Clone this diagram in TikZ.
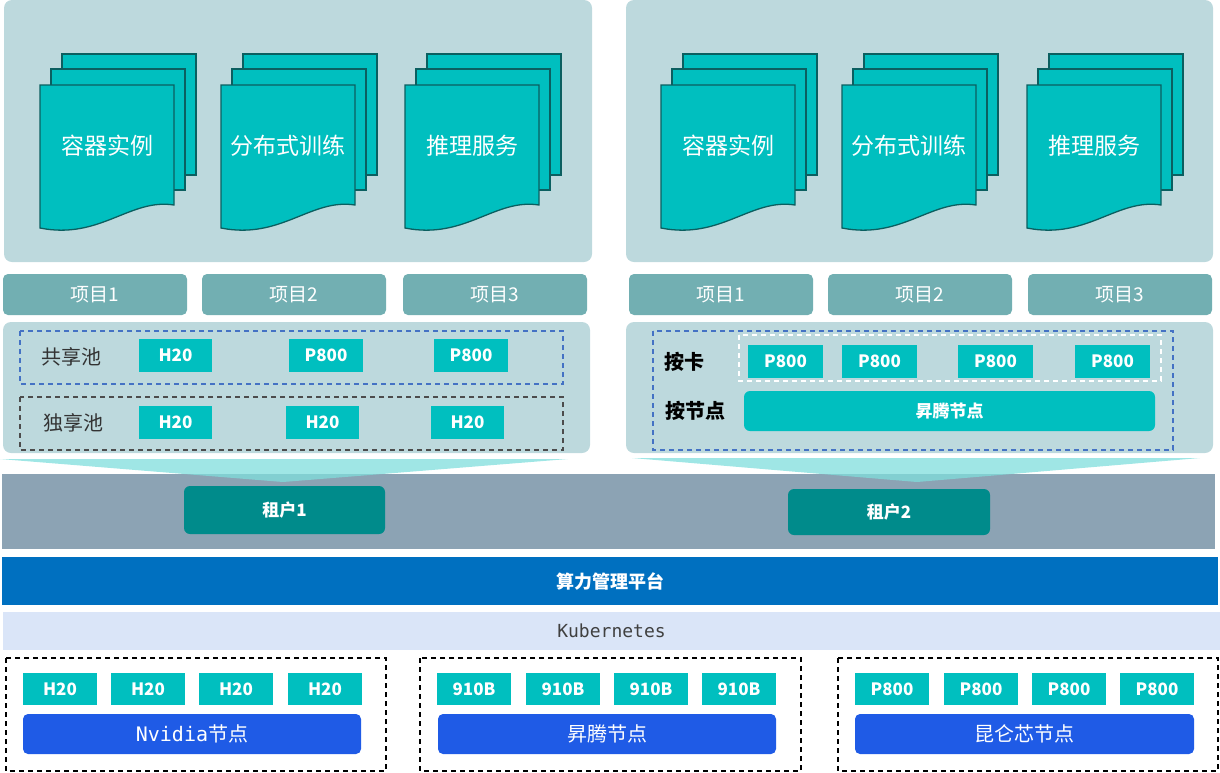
\documentclass[tikz,border=0pt]{standalone}
\usepackage{fontspec}
\setmainfont{Noto Sans CJK SC}
\newfontfamily\monofont{DejaVu Sans Mono}
\usetikzlibrary{positioning}
\definecolor{panel}{HTML}{BDD9DD}
\definecolor{proj}{HTML}{72AFB2}
\definecolor{chip}{HTML}{00BFBF}
\definecolor{docline}{HTML}{0B5F60}
\definecolor{band}{HTML}{8CA3B4}
\definecolor{tenant}{HTML}{008B8B}
\definecolor{platform}{HTML}{0070C0}
\definecolor{kube}{HTML}{DAE5F8}
\definecolor{nodebar}{HTML}{1F5BE6}
\definecolor{funnel}{HTML}{7FDEDC}
\definecolor{dashblue}{HTML}{4472C4}
\tikzset{
    x=1pt, y=-1pt,
    panel/.style={fill=panel, rounded corners=8pt},
    proj/.style={fill=proj, rounded corners=5pt, text=white, font=\fontsize{19}{19}\selectfont},
    chip/.style={fill=chip, text=white, font=\bfseries\fontsize{17}{17}\selectfont},
    sheet/.style={fill=chip, draw=docline, line width=1.3pt},
    tenant/.style={fill=tenant, rounded corners=6pt, text=white, font=\bfseries\fontsize{17}{17}\selectfont},
    nodebar/.style={fill=nodebar, rounded corners=5pt, text=white, font=\fontsize{20}{20}\selectfont},
    pool/.style={dashed, line width=1.2pt, dash pattern=on 5pt off 4pt}}
\newcommand{\docstack}[3]{%
  \begin{scope}[shift={(#1,0)}]
    \draw[sheet] (22,54) rectangle (156,175);
    \draw[sheet] (11,69) rectangle (145,190);
    \draw[sheet] (0,85) -- (134,85) -- (134,205) .. controls (90,198) and (60,240) .. (0,228) -- cycle;
    \node[text=white, font=\fontsize{23}{23}\selectfont] (#3) at (67,146) {#2};
  \end{scope}}
\newcommand{\boxat}[6]{% style, name, x1, y1, x2, y2 then text
  \path[#1] (#3,#4) rectangle (#5,#6) node[midway] (#2) }
\begin{document}
\begin{tikzpicture}
    \useasboundingbox (0,0) rectangle (1220,772);

    % workload panels
    \fill[panel] (4,0) rectangle (592,262);
    \fill[panel] (626,0) rectangle (1213,262);
    \docstack{40}{容器实例}{docA}
    \docstack{221}{分布式训练}{docB}
    \docstack{405}{推理服务}{docC}
    \docstack{661}{容器实例}{docD}
    \docstack{842}{分布式训练}{docE}
    \docstack{1027}{推理服务}{docF}

    % projects
    \boxat{proj}{p1}{3}{274}{187}{315}{项目1};
    \boxat{proj}{p2}{202}{274}{386}{315}{项目2};
    \boxat{proj}{p3}{403}{274}{587}{315}{项目3};
    \boxat{proj}{p4}{629}{274}{813}{315}{项目1};
    \boxat{proj}{p5}{828}{274}{1012}{315}{项目2};
    \boxat{proj}{p6}{1028}{274}{1212}{315}{项目3};

    % pools of tenant 1
    \fill[panel] (3,322) rectangle (590,453);
    \draw[pool, dashblue] (20,331) rectangle (563,384);
    \draw[pool, black!70] (20,397) rectangle (563,450);
    \node[font=\fontsize{20}{20}\selectfont, text=black!80] (shared) at (71,357) {共享池};
    \node[font=\fontsize{20}{20}\selectfont, text=black!80] (own) at (73,423) {独享池};
    \boxat{chip}{s1}{139}{339}{212}{372}{H20};
    \boxat{chip}{s2}{289}{339}{363}{372}{P800};
    \boxat{chip}{s3}{434}{339}{508}{372}{P800};
    \boxat{chip}{e1}{139}{406}{212}{439}{H20};
    \boxat{chip}{e2}{286}{406}{359}{439}{H20};
    \boxat{chip}{e3}{431}{406}{504}{439}{H20};

    % pools of tenant 2
    \fill[panel] (626,322) rectangle (1213,453);
    \draw[pool, dashblue] (653,331) rectangle (1173,450);
    \draw[pool, white] (739,335) rectangle (1161,381);
    \node[font=\bfseries\fontsize{20}{20}\selectfont] (bycard) at (684,362) {按卡};
    \node[font=\bfseries\fontsize{20}{20}\selectfont] (bynode) at (695,411) {按节点};
    \boxat{chip}{c1}{748}{345}{823}{378}{P800};
    \boxat{chip}{c2}{842}{345}{917}{378}{P800};
    \boxat{chip}{c3}{958}{345}{1033}{378}{P800};
    \boxat{chip}{c4}{1075}{345}{1150}{378}{P800};
    \boxat{chip, rounded corners=6pt}{ascend}{744}{391}{1155}{431}{昇腾节点};

    % tenants
    \fill[band] (2,474) rectangle (1215,549);
    \fill[funnel, opacity=.75] (0,459) -- (568,459) -- (283,482) -- cycle;
    \fill[funnel, opacity=.75] (632,458) -- (1200,458) -- (917,482) -- cycle;
    \boxat{tenant}{t1}{184}{486}{385}{534}{租户1};
    \boxat{tenant}{t2}{788}{489}{990}{535}{租户2};

    % platform
    \boxat{fill=platform, text=white, font=\bfseries\fontsize{18}{18}\selectfont}{plat}{2}{557}{1218}{605}{算力管理平台};
    \boxat{fill=kube, font=\monofont\fontsize{18}{18}\selectfont, text=black!75}{k8s}{3}{612}{1220}{650}{Kubernetes};

    % hardware nodes
    \draw[pool, black] (6,658) rectangle (386,771);
    \draw[pool, black] (420,658) rectangle (801,771);
    \draw[pool, black] (838,658) rectangle (1218,771);
    \foreach \x [count=\i] in {23,111,199,288} {
        \boxat{chip}{n\i}{\x}{673}{\x+74}{705}{H20};
    }
    \foreach \x [count=\i] in {437,526,614,702} {
        \boxat{chip}{a\i}{\x}{673}{\x+74}{705}{910B};
    }
    \foreach \x [count=\i] in {855,944,1032,1120} {
        \boxat{chip}{k\i}{\x}{673}{\x+74}{705}{P800};
    }
    \boxat{nodebar}{nv}{23}{714}{361}{754}{{\monofont Nvidia}节点};
    \boxat{nodebar}{hw}{438}{714}{776}{754}{昇腾节点};
    \boxat{nodebar}{kl}{855}{714}{1194}{754}{昆仑芯节点};
\end{tikzpicture}
\end{document}
